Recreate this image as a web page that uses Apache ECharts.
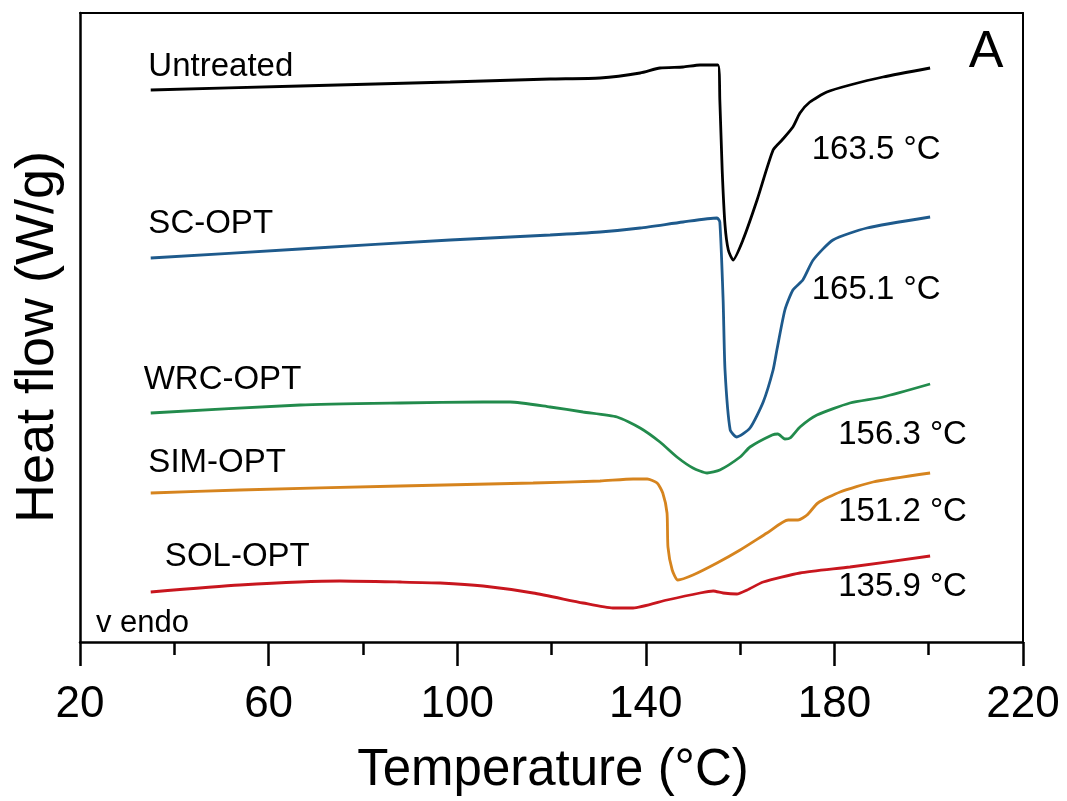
<!DOCTYPE html>
<html>
<head>
<meta charset="utf-8">
<script src="https://cdn.jsdelivr.net/npm/echarts@6/dist/echarts.min.js"></script>
<style>
html,body{margin:0;padding:0;background:#fff;}
#chart{width:1067px;height:801px;}
</style>
</head>
<body>
<div id="chart"></div>
<script>
// Temperature (°C) and heat flow (arbitrary, offset units; higher = up)
const untreatedT = [35, 66.7, 98.5, 119.7, 130.3, 138.8, 143.0, 147.9, 151.5, 155.3, 155.7, 156.2, 156.8, 157.5, 158.5, 160.6, 163.6, 167.0, 168.9, 171.2, 172.7, 174.8, 178.4, 183.3, 190.3, 200.3];
const untreatedY = [552, 556, 560, 563, 564, 569, 574, 575, 577, 577, 542, 472, 417, 392, 382, 402, 442, 492, 502, 515, 529, 540, 550, 557, 565, 574];

const scT = [35, 66.7, 98.5, 119.7, 130.3, 138.8, 147.9, 155.1, 155.7, 156.4, 156.8, 157.9, 159.3, 162.1, 164.9, 167.0, 167.8, 169.5, 171.2, 173.3, 175.5, 179.7, 186.9, 200.3];
const scY = [384, 393, 402, 407, 410, 414, 420, 424, 420, 342, 272, 212, 205, 214, 240, 272, 292, 332, 352, 362, 382, 402, 414, 425];

const wrcT = [35, 66.7, 87.9, 105.5, 111.2, 119.7, 126.7, 133.9, 138.8, 143.0, 146.6, 150.0, 153.0, 155.7, 160.0, 162.1, 166.8, 168.0, 169.5, 170.6, 172.7, 176.3, 183.3, 190.3, 200.3];
const wrcY = [229, 237, 239, 240, 240, 235, 230, 225, 214, 200, 185, 174, 169, 172, 185, 195, 207, 208, 203, 204, 215, 227, 239, 245, 258];

const simT = [35, 53.9, 87.9, 116.1, 130.3, 137.3, 140.3, 142.4, 143.6, 144.5, 144.7, 145.6, 146.8, 150.0, 155.1, 160.0, 165.7, 170.2, 172.3, 174.2, 176.5, 181.2, 188.2, 200.3];
const simY = [149, 152, 156, 159, 161, 163, 163, 159, 149, 129, 95, 72, 62, 67, 79, 92, 109, 122, 122, 127, 139, 150, 160, 169];

const solT = [35, 53.9, 75.1, 87.9, 96.4, 105.5, 116.1, 126.7, 133.0, 137.3, 144.5, 151.5, 154.3, 156.4, 159.3, 161.5, 164.9, 172.7, 183.3, 200.3];
const solY = [50, 57, 61, 60, 59, 56, 49, 39, 34, 34, 42, 49, 51, 49, 48, 52, 60, 69, 75, 86];

const seriesNames = ["Untreated", "SC-OPT", "WRC-OPT", "SIM-OPT", "SOL-OPT"];
const peakLabels = ["163.5 °C", "165.1 °C", "156.3 °C", "151.2 °C", "135.9 °C"];
const xTicks = [20, 60, 100, 140, 180, 220];
const xTitle = "Temperature (°C)";
const yTitle = "Heat flow (W/g)";
const panelLabel = "A";
const endoLabel = "v endo";

const colors = ["#000000", "#1e5a8c", "#228b4c", "#d6841e", "#c8161e"];
const Ts = [untreatedT, scT, wrcT, simT, solT];
const Ys = [untreatedY, scY, wrcY, simY, solY];

const FONT = "'Liberation Sans', Arial, sans-serif";

const chart = echarts.init(document.getElementById('chart'), null, {renderer: 'canvas'});

const series = seriesNames.map((n, i) => ({
  name: n,
  type: 'line',
  showSymbol: false,
  smooth: 0.2,
  lineStyle: {color: colors[i], width: 2.8},
  data: Ts[i].map((t, k) => [t, Ys[i][k]]),
  z: 5
}));

chart.setOption({
  backgroundColor: '#fff',
  animation: false,
  grid: {left: 80, right: 44, top: 13, bottom: 159, containLabel: false},
  xAxis: [{
    type: 'value',
    min: 20, max: 220, interval: 40,
    axisLine: {show: true, lineStyle: {color: '#000', width: 2.5}},
    axisTick: {show: true, inside: false, length: 24, lineStyle: {color: '#000', width: 2.5}},
    minorTick: {show: true, splitNumber: 2, length: 13, lineStyle: {color: '#000', width: 2.5}},
    splitLine: {show: false},
    axisLabel: {
      show: true, margin: 41, color: '#000', fontSize: 44, fontFamily: FONT,
      formatter: v => xTicks.indexOf(v) >= 0 ? String(v) : ''
    }
  }, {
    type: 'value', position: 'top', min: 20, max: 220,
    axisLine: {show: true, onZero: false, lineStyle: {color: '#000', width: 2}},
    axisTick: {show: false}, axisLabel: {show: false}, splitLine: {show: false}
  }],
  yAxis: [{
    type: 'value', min: 0, max: 629,
    axisLine: {show: true, onZero: false, lineStyle: {color: '#000', width: 2.5}},
    axisTick: {show: false}, axisLabel: {show: false}, splitLine: {show: false}
  }, {
    type: 'value', position: 'right', min: 0, max: 629,
    axisLine: {show: true, onZero: false, lineStyle: {color: '#000', width: 2}},
    axisTick: {show: false}, axisLabel: {show: false}, splitLine: {show: false}
  }],
  series: series
});

// Text annotations anchored in data coordinates
const nameLabelPos = [[34.5, 575], [34.5, 418], [33.5, 262], [34.5, 179], [38, 85]];
const peakLabelPos = [[175.2, 492], [175.2, 352], [180.8, 207], [180.8, 130], [180.8, 55]];

const texts = [];
seriesNames.forEach((n, i) => {
  const p = chart.convertToPixel({gridIndex: 0}, nameLabelPos[i]);
  texts.push({type: 'text', x: p[0], y: p[1], silent: true,
    style: {text: n, font: "33px " + FONT, fill: '#000', textAlign: 'left', textVerticalAlign: 'middle'}});
});
peakLabels.forEach((n, i) => {
  const p = chart.convertToPixel({gridIndex: 0}, peakLabelPos[i]);
  texts.push({type: 'text', x: p[0], y: p[1], silent: true,
    style: {text: n, font: "33px " + FONT, fill: '#000', textAlign: 'left', textVerticalAlign: 'middle'}});
});
texts.push(
  {type: 'text', x: 553, y: 771, style: {text: xTitle, font: "51px " + FONT, fill: '#000', textAlign: 'center', textVerticalAlign: 'middle'}},
  {type: 'text', rotation: Math.PI / 2, x: 38, y: 337, style: {text: yTitle, font: "54px " + FONT, fill: '#000', textAlign: 'center', textVerticalAlign: 'middle'}},
  {type: 'text', x: 986, y: 53, style: {text: panelLabel, font: "52px " + FONT, fill: '#000', textAlign: 'center', textVerticalAlign: 'middle'}},
  {type: 'text', x: 96, y: 623, style: {text: endoLabel, font: "31px " + FONT, fill: '#000', textAlign: 'left', textVerticalAlign: 'middle'}}
);
chart.setOption({graphic: texts});
</script>
</body>
</html>
